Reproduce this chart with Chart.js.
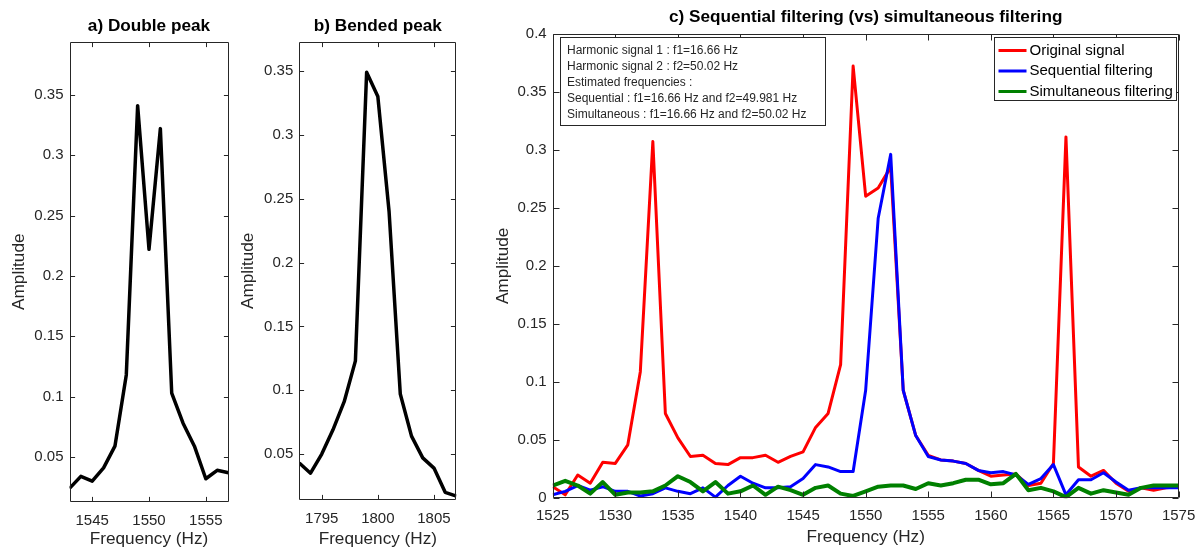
<!DOCTYPE html>
<html>
<head>
<meta charset="utf-8">
<title>Double peak / Bended peak / Sequential vs simultaneous filtering</title>
<script src="https://cdn.jsdelivr.net/npm/chart.js@4.4.1/dist/chart.umd.min.js"></script>
<style>
  html, body { margin: 0; padding: 0; background: #fff; }
  #page { position: relative; width: 1204px; height: 548px; overflow: hidden; background: #fff; }
  .panel { position: absolute; top: 0; }
  #panelA { left: 0; }
  #panelB { left: 235px; }
  #panelC { left: 480px; }
</style>
</head>
<body>
<div id="page">
  <canvas id="panelA" class="panel" width="245" height="570"></canvas>
  <canvas id="panelB" class="panel" width="240" height="570"></canvas>
  <canvas id="panelC" class="panel" width="724" height="570"></canvas>
</div>
<script>
/* ===============================
   DATA
================================ */
// a) Double peak
const freqA = [1543, 1544, 1545, 1546, 1547, 1548, 1549, 1550, 1551, 1552, 1553, 1554, 1555, 1556, 1557];
const ampA = [0.024, 0.034, 0.030, 0.041, 0.059, 0.118, 0.341, 0.222, 0.322, 0.103, 0.078, 0.059, 0.032, 0.039, 0.037];
const xTicksA = [1545, 1550, 1555];

// b) Bended peak
const freqB = [1793, 1794, 1795, 1796, 1797, 1798, 1799, 1800, 1801, 1802, 1803, 1804, 1805, 1806, 1807];
const ampB = [0.043, 0.035, 0.050, 0.069, 0.091, 0.123, 0.349, 0.330, 0.240, 0.097, 0.064, 0.047, 0.039, 0.020, 0.017];
const xTicksB = [1795, 1800, 1805];

const yTicksAB = [0.05, 0.1, 0.15, 0.2, 0.25, 0.3, 0.35];

// c) Sequential filtering (vs) simultaneous filtering
const freqC = [
  1525, 1526, 1527, 1528, 1529, 1530, 1531, 1532, 1533, 1534,
  1535, 1536, 1537, 1538, 1539, 1540, 1541, 1542, 1543, 1544,
  1545, 1546, 1547, 1548, 1549, 1550, 1551, 1552, 1553, 1554,
  1555, 1556, 1557, 1558, 1559, 1560, 1561, 1562, 1563, 1564,
  1565, 1566, 1567, 1568, 1569, 1570, 1571, 1572, 1573, 1574, 1575
];
const originalSignal = [
  0.010, 0.003, 0.020, 0.013, 0.031, 0.030, 0.046, 0.109, 0.307, 0.073,
  0.052, 0.036, 0.037, 0.030, 0.029, 0.035, 0.035, 0.037, 0.031, 0.036,
  0.040, 0.061, 0.073, 0.115, 0.372, 0.260, 0.267, 0.285, 0.093, 0.054,
  0.037, 0.033, 0.032, 0.030, 0.024, 0.019, 0.020, 0.021, 0.011, 0.013,
  0.030, 0.311, 0.027, 0.019, 0.024, 0.013, 0.006, 0.009, 0.007, 0.009, 0.010
];
const sequentialFiltering = [
  0.003, 0.006, 0.011, 0.007, 0.010, 0.006, 0.006, 0.002, 0.004, 0.009,
  0.006, 0.004, 0.009, 0.001, 0.011, 0.019, 0.013, 0.009, 0.009, 0.010,
  0.017, 0.029, 0.027, 0.023, 0.023, 0.093, 0.241, 0.296, 0.093, 0.054,
  0.036, 0.033, 0.032, 0.030, 0.024, 0.022, 0.023, 0.020, 0.012, 0.017,
  0.029, 0.003, 0.016, 0.016, 0.022, 0.014, 0.007, 0.009, 0.009, 0.009, 0.009
];
const simultaneousFiltering = [
  0.011, 0.015, 0.011, 0.004, 0.014, 0.003, 0.005, 0.005, 0.006, 0.011,
  0.019, 0.014, 0.006, 0.014, 0.004, 0.006, 0.011, 0.003, 0.010, 0.007,
  0.003, 0.009, 0.011, 0.004, 0.002, 0.006, 0.010, 0.011, 0.011, 0.008,
  0.013, 0.011, 0.013, 0.016, 0.016, 0.012, 0.013, 0.021, 0.007, 0.009,
  0.006, 0.001, 0.009, 0.004, 0.007, 0.005, 0.003, 0.009, 0.011, 0.011, 0.011
];
const xTicksC = [1525, 1530, 1535, 1540, 1545, 1550, 1555, 1560, 1565, 1570, 1575];
const yTicksC = [0, 0.05, 0.1, 0.15, 0.2, 0.25, 0.3, 0.35, 0.4];

const infoLines = [
  "Harmonic signal 1 : f1=16.66 Hz",
  "Harmonic signal 2 : f2=50.02 Hz",
  "Estimated frequencies :",
  "Sequential : f1=16.66 Hz and f2=49.981 Hz",
  "Simultaneous : f1=16.66 Hz and f2=50.02 Hz"
];

/* ===============================
   STYLE CONSTANTS
================================ */
const FONT = "'Liberation Sans', Arial, Helvetica, sans-serif";
const AXIS_COLOR = "#262626";
const TITLE_SIZE = 17.2;
const LINE_H = TITLE_SIZE * 1.2;

Chart.defaults.font.family = FONT;
Chart.defaults.color = AXIS_COLOR;

/* ===============================
   PLUGINS
================================ */
// MATLAB style box with inward ticks on all four sides
const matlabBox = {
  id: "matlabBox",
  afterDatasetsDraw(chart, args, opts) {
    const { ctx, chartArea: a, scales } = chart;
    const len = opts.tickLength || 5;
    const L = Math.round(a.left) + 0.5;
    const R = Math.round(a.right) - 0.5;
    const T = Math.round(a.top) + 0.5;
    const B = Math.round(a.bottom) - 0.5;
    ctx.save();
    ctx.strokeStyle = AXIS_COLOR;
    ctx.lineWidth = 1;
    ctx.beginPath();
    scales.x.ticks.forEach((t) => {
      const px = Math.round(scales.x.getPixelForValue(t.value)) + 0.5;
      ctx.moveTo(px, B); ctx.lineTo(px, B - len);
      ctx.moveTo(px, T); ctx.lineTo(px, T + len);
    });
    scales.y.ticks.forEach((t) => {
      const py = Math.round(scales.y.getPixelForValue(t.value)) + 0.5;
      ctx.moveTo(L, py); ctx.lineTo(L + len, py);
      ctx.moveTo(R, py); ctx.lineTo(R - len, py);
    });
    ctx.rect(L, T, R - L, B - T);
    ctx.stroke();
    ctx.restore();
  }
};

// text box in the upper left corner of panel c
const infoBox = {
  id: "infoBox",
  afterDraw(chart, args, opts) {
    if (!opts.lines) return;
    const { ctx, chartArea: a } = chart;
    const x = Math.round(a.left + 7) + 0.5;
    const y = Math.round(a.top + 3) + 0.5;
    ctx.save();
    ctx.fillStyle = "#fff";
    ctx.fillRect(x, y, 265, 88);
    ctx.strokeStyle = AXIS_COLOR;
    ctx.lineWidth = 1;
    ctx.strokeRect(x, y, 265, 88);
    ctx.fillStyle = AXIS_COLOR;
    ctx.font = "12px " + FONT;
    ctx.textBaseline = "middle";
    opts.lines.forEach((line, i) => {
      ctx.fillText(line, x + 6.5, y + 13 + i * 16);
    });
    ctx.restore();
  }
};

// legend drawn inside the axes, top right
const insetLegend = {
  id: "insetLegend",
  afterDraw(chart, args, opts) {
    if (!opts.display) return;
    const { ctx, chartArea: a } = chart;
    const sets = chart.data.datasets;
    const w = 182;
    const h = 63;
    const x = Math.round(a.right - 3 - w) + 0.5;
    const y = Math.round(a.top + 3) + 0.5;
    ctx.save();
    ctx.fillStyle = "#fff";
    ctx.fillRect(x, y, w, h);
    ctx.strokeStyle = AXIS_COLOR;
    ctx.lineWidth = 1;
    ctx.strokeRect(x, y, w, h);
    ctx.font = "15px " + FONT;
    ctx.textBaseline = "middle";
    sets.forEach((ds, i) => {
      const cy = y + 13 + i * 20.5;
      ctx.strokeStyle = ds.borderColor;
      ctx.lineWidth = 3;
      ctx.beginPath();
      ctx.moveTo(x + 4, cy);
      ctx.lineTo(x + 32, cy);
      ctx.stroke();
      ctx.fillStyle = "#000";
      ctx.fillText(ds.label, x + 35, cy);
    });
    ctx.restore();
  }
};

/* ===============================
   PANEL BUILDER
================================ */
// area, titleY, xLabelY, yLabelX are page pixel positions
function buildPanel(canvasId, originX, setup) {
  const canvas = document.getElementById(canvasId);
  const W = canvas.width;
  const H = canvas.height;
  const left = setup.area.left - originX;
  const right = setup.area.right - originX;
  const top = setup.area.top;
  const bottom = setup.area.bottom;

  return new Chart(canvas, {
    type: "line",
    data: { datasets: setup.datasets },
    options: {
      responsive: false,
      animation: false,
      events: [],
      layout: {
        padding: { left: 0, right: W - right, top: setup.titleY - LINE_H / 2, bottom: 0 },
      },
      elements: {
        point: { radius: 0 },
        line: { tension: 0, borderCapStyle: "butt", borderJoinStyle: "round" },
      },
      plugins: {
        legend: { display: false },
        tooltip: { enabled: false },
        title: {
          display: true,
          text: setup.title,
          fullSize: false,
          color: "#000",
          font: { size: TITLE_SIZE, weight: "bold", lineHeight: 1.2 },
          padding: { top: 0, bottom: top - setup.titleY - LINE_H / 2 },
        },
        matlabBox: { tickLength: setup.tickLength },
        infoBox: { lines: setup.infoLines },
        insetLegend: { display: !!setup.legend },
      },
      scales: {
        x: {
          type: "linear",
          min: setup.xMin,
          max: setup.xMax,
          grid: { display: false, drawTicks: false },
          border: { display: false },
          ticks: {
            autoSkip: false,
            maxRotation: 0,
            padding: setup.xTickPad,
            color: AXIS_COLOR,
            font: { size: 15 },
            callback: (v) => String(v),
          },
          afterBuildTicks: (axis) => {
            axis.ticks = setup.xTicks.map((v) => ({ value: v }));
          },
          afterFit: (axis) => {
            axis.height = H - bottom;
          },
          title: {
            display: true,
            text: "Frequency (Hz)",
            color: AXIS_COLOR,
            font: { size: TITLE_SIZE, lineHeight: 1.2 },
            padding: { top: 0, bottom: H - setup.xLabelY - LINE_H / 2 },
          },
        },
        y: {
          type: "linear",
          min: setup.yMin,
          max: setup.yMax,
          grid: { display: false, drawTicks: false },
          border: { display: false },
          ticks: {
            autoSkip: false,
            padding: 6,
            color: AXIS_COLOR,
            font: { size: 15 },
            callback: (v) => String(v),
          },
          afterBuildTicks: (axis) => {
            axis.ticks = setup.yTicks.map((v) => ({ value: v }));
          },
          afterFit: (axis) => {
            axis.width = left;
          },
          title: {
            display: true,
            text: "Amplitude",
            color: AXIS_COLOR,
            font: { size: TITLE_SIZE, lineHeight: 1.2 },
            padding: { top: setup.yLabelX - originX - LINE_H / 2, bottom: 0 },
          },
        },
      },
    },
    plugins: [matlabBox, infoBox, insetLegend],
  });
}

function toPoints(xs, ys) {
  return xs.map((x, i) => ({ x: x, y: ys[i] }));
}

/* ===============================
   CHARTS
================================ */
buildPanel("panelA", 0, {
  title: "a) Double peak",
  area: { left: 69.5, right: 228.5, top: 41.7, bottom: 501.7 },
  titleY: 26.5, xLabelY: 539.5, yLabelX: 19, xTickPad: 10, tickLength: 4.6,
  xMin: 1543, xMax: 1557, yMin: 0.013, yMax: 0.394,
  xTicks: xTicksA, yTicks: yTicksAB,
  datasets: [
    { label: "Double peak", data: toPoints(freqA, ampA), borderColor: "#000", borderWidth: 3.5 },
  ],
});

buildPanel("panelB", 235, {
  title: "b) Bended peak",
  area: { left: 299.3, right: 456.4, top: 41.7, bottom: 500 },
  titleY: 26.5, xLabelY: 539, yLabelX: 248.3, xTickPad: 9.5, tickLength: 4.6,
  xMin: 1793, xMax: 1807, yMin: 0.014, yMax: 0.373,
  xTicks: xTicksB, yTicks: yTicksAB,
  datasets: [
    { label: "Bended peak", data: toPoints(freqB, ampB), borderColor: "#000", borderWidth: 3.5 },
  ],
});

buildPanel("panelC", 480, {
  title: "c) Sequential filtering (vs) simultaneous filtering",
  area: { left: 552.7, right: 1180, top: 33.5, bottom: 498.3 },
  titleY: 17.5, xLabelY: 537.3, yLabelX: 503, xTickPad: 8.7, tickLength: 6,
  xMin: 1525, xMax: 1575, yMin: 0, yMax: 0.4,
  xTicks: xTicksC, yTicks: yTicksC,
  infoLines: infoLines,
  legend: true,
  datasets: [
    { label: "Original signal", data: toPoints(freqC, originalSignal), borderColor: "#ff0000", borderWidth: 3, order: 3 },
    { label: "Sequential filtering", data: toPoints(freqC, sequentialFiltering), borderColor: "#0000ff", borderWidth: 3, order: 2 },
    { label: "Simultaneous filtering", data: toPoints(freqC, simultaneousFiltering), borderColor: "#008000", borderWidth: 4, order: 1 },
  ],
});
</script>
</body>
</html>
